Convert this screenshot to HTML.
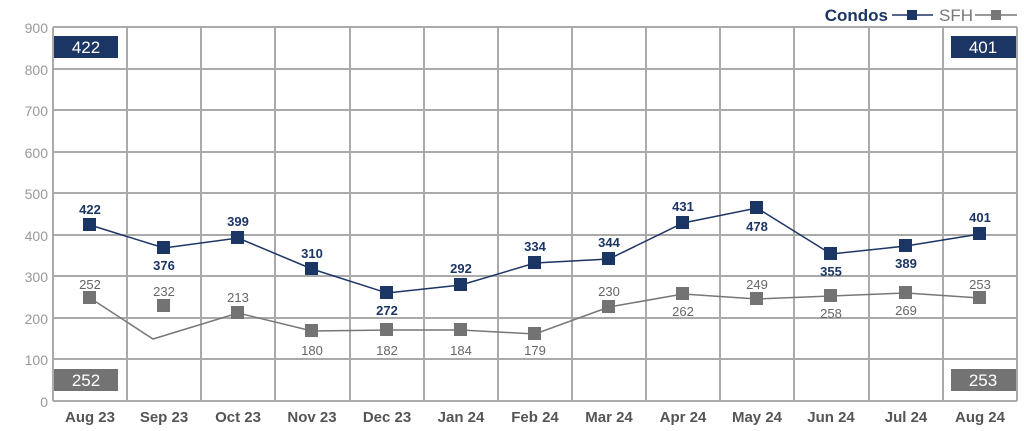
<!DOCTYPE html><html><head><style>body{margin:0;background:#fff}svg{display:block}text{font-family:"Liberation Sans",sans-serif}</style></head><body>
<svg width="1024" height="431" xmlns="http://www.w3.org/2000/svg">
<g stroke="#aaa" stroke-width="2">
<line x1="53" y1="27" x2="1017" y2="27"/><line x1="53" y1="69" x2="1017" y2="69"/><line x1="53" y1="110" x2="1017" y2="110"/><line x1="53" y1="152" x2="1017" y2="152"/><line x1="53" y1="193" x2="1017" y2="193"/><line x1="53" y1="235" x2="1017" y2="235"/><line x1="53" y1="276" x2="1017" y2="276"/><line x1="53" y1="318" x2="1017" y2="318"/><line x1="53" y1="359" x2="1017" y2="359"/><line x1="53" y1="401" x2="1017" y2="401"/>
<line x1="53" y1="27" x2="53" y2="401"/><line x1="127" y1="27" x2="127" y2="401"/><line x1="201" y1="27" x2="201" y2="401"/><line x1="275" y1="27" x2="275" y2="401"/><line x1="350" y1="27" x2="350" y2="401"/><line x1="424" y1="27" x2="424" y2="401"/><line x1="498" y1="27" x2="498" y2="401"/><line x1="572" y1="27" x2="572" y2="401"/><line x1="646" y1="27" x2="646" y2="401"/><line x1="720" y1="27" x2="720" y2="401"/><line x1="794" y1="27" x2="794" y2="401"/><line x1="869" y1="27" x2="869" y2="401"/><line x1="943" y1="27" x2="943" y2="401"/><line x1="1017" y1="27" x2="1017" y2="401"/>
</g>
<g fill="#999" font-size="14" text-anchor="end">
<text x="48" y="33">900</text><text x="48" y="75">800</text><text x="48" y="116">700</text><text x="48" y="158">600</text><text x="48" y="199">500</text><text x="48" y="241">400</text><text x="48" y="282">300</text><text x="48" y="324">200</text><text x="48" y="365">100</text><text x="48" y="407">0</text>
</g>
<g fill="#555" font-size="15" font-weight="bold" text-anchor="middle">
<text x="90" y="422">Aug 23</text><text x="164" y="422">Sep 23</text><text x="238" y="422">Oct 23</text><text x="312" y="422">Nov 23</text><text x="387" y="422">Dec 23</text><text x="461" y="422">Jan 24</text><text x="535" y="422">Feb 24</text><text x="609" y="422">Mar 24</text><text x="683" y="422">Apr 24</text><text x="757" y="422">May 24</text><text x="831" y="422">Jun 24</text><text x="906" y="422">Jul 24</text><text x="980" y="422">Aug 24</text>
</g>
<polyline fill="none" stroke="#777" stroke-width="1.5" points="90,298 153,339 238,313 312,331 387,330 461,330 535,334 609,307 683,294 757,299 831,296 906,293 980,298"/>
<polyline fill="none" stroke="#1b3564" stroke-width="1.5" points="90,225 164,248 238,238 312,269 387,293 461,285 535,263 609,259 683,223 757,208 831,254 906,246 980,234"/>
<g fill="#737373">
<rect x="83" y="291" width="13" height="13"/><rect x="157" y="299" width="13" height="13"/><rect x="231" y="306" width="13" height="13"/><rect x="305" y="324" width="13" height="13"/><rect x="380" y="323" width="13" height="13"/><rect x="454" y="323" width="13" height="13"/><rect x="528" y="327" width="13" height="13"/><rect x="602" y="300" width="13" height="13"/><rect x="676" y="287" width="13" height="13"/><rect x="750" y="292" width="13" height="13"/><rect x="824" y="289" width="13" height="13"/><rect x="899" y="286" width="13" height="13"/><rect x="973" y="291" width="13" height="13"/>
</g>
<g fill="#1b3564">
<rect x="83" y="218" width="13" height="13"/><rect x="157" y="241" width="13" height="13"/><rect x="231" y="231" width="13" height="13"/><rect x="305" y="262" width="13" height="13"/><rect x="380" y="286" width="13" height="13"/><rect x="454" y="278" width="13" height="13"/><rect x="528" y="256" width="13" height="13"/><rect x="602" y="252" width="13" height="13"/><rect x="676" y="216" width="13" height="13"/><rect x="750" y="201" width="13" height="13"/><rect x="824" y="247" width="13" height="13"/><rect x="899" y="239" width="13" height="13"/><rect x="973" y="227" width="13" height="13"/>
</g>
<g fill="#1b3564" font-size="13" font-weight="bold" text-anchor="middle">
<text x="90" y="214">422</text><text x="164" y="270">376</text><text x="238" y="226">399</text><text x="312" y="258">310</text><text x="387" y="315">272</text><text x="461" y="273">292</text><text x="535" y="251">334</text><text x="609" y="247">344</text><text x="683" y="211">431</text><text x="757" y="231">478</text><text x="831" y="276">355</text><text x="906" y="268">389</text><text x="980" y="222">401</text>
</g>
<g fill="#666" font-size="13" text-anchor="middle">
<text x="90" y="289">252</text><text x="164" y="296">232</text><text x="238" y="302">213</text><text x="312" y="355">180</text><text x="387" y="355">182</text><text x="461" y="355">184</text><text x="535" y="355">179</text><text x="609" y="296">230</text><text x="683" y="316">262</text><text x="757" y="289">249</text><text x="831" y="318">258</text><text x="906" y="315">269</text><text x="980" y="289">253</text>
</g>
<rect x="54" y="36" width="64" height="22" fill="#1b3564"/><text x="86" y="53" fill="#fff" font-size="17" text-anchor="middle">422</text>
<rect x="951" y="36" width="65" height="22" fill="#1b3564"/><text x="983" y="53" fill="#fff" font-size="17" text-anchor="middle">401</text>
<rect x="54" y="369" width="64" height="22" fill="#737373"/><text x="86" y="386" fill="#fff" font-size="17" text-anchor="middle">252</text>
<rect x="951" y="369" width="65" height="22" fill="#737373"/><text x="983" y="386" fill="#fff" font-size="17" text-anchor="middle">253</text>
<text x="888" y="21" fill="#1b3564" font-size="17" font-weight="bold" text-anchor="end">Condos</text>
<line x1="892" y1="15" x2="933" y2="15" stroke="#1b3564" stroke-width="1.5"/><rect x="907" y="10" width="10" height="10" fill="#1b3564"/>
<text x="939" y="21" fill="#777" font-size="17">SFH</text>
<line x1="975" y1="15" x2="1017" y2="15" stroke="#777" stroke-width="1.5"/><rect x="991" y="10" width="10" height="10" fill="#777"/>
</svg></body></html>
